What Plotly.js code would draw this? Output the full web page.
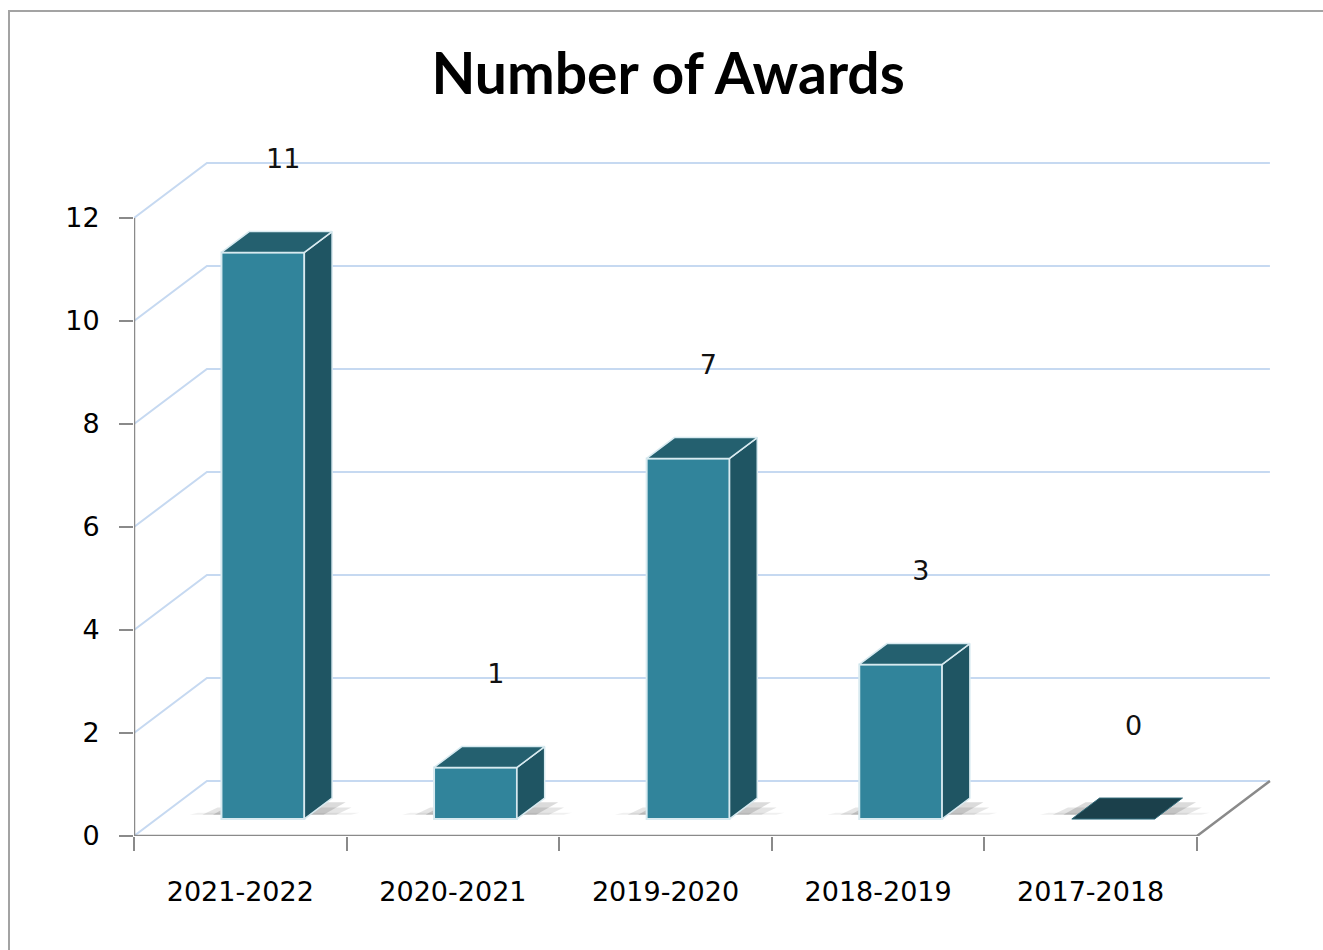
<!DOCTYPE html>
<html>
<head>
<meta charset="utf-8">
<script src="https://cdn.plot.ly/plotly-3.0.1.min.js"></script>
<style>
  html, body { margin: 0; padding: 0; background: #ffffff; overflow: hidden; }
  #chart { position: absolute; left: 0; top: 0; width: 1323px; height: 950px; }
  #frame { position: absolute; left: 8px; top: 10px; width: 1400px; height: 1000px;
           border: 2px solid #a3a3a3; pointer-events: none; }
</style>
</head>
<body>
<div id="chart"></div>
<div id="frame"></div>
<script>
// ---- data ----
const categories = ['2021-2022', '2020-2021', '2019-2020', '2018-2019', '2017-2018'];
const awards = [11, 1, 7, 3, 0];
const yTickVals = [0, 2, 4, 6, 8, 10, 12];
const chartTitle = 'Number of Awards';

// ---- 3D projection style constants (data units) ----
const N = categories.length;
const XMAX = 1146 / 212.6;     // x range so the floor depth fits
const YMAX = 696 / 51.5;       // y range so the back wall fits
const DEPTH_DX = 0.343;        // oblique depth offset in category units
const DEPTH_DY = 1.068;        // oblique depth offset in value units
const BAR_FRONT = 0.31;        // depth fraction of the bar front face
const BAR_DEPTH = 0.38;        // depth fraction of the bar body
const BAR_W = 0.39;            // bar width in category units
const LABEL_DY = 2.1;          // data label offset above value

const FRONT = '#31849b', TOP = '#24606f', SIDE = '#1f5563', FLAT = '#1b404b';
const EDGE = '#d8eaf0', AXIS = '#8a8a8a', GRID = '#c6d9f1';

const fx = BAR_FRONT * DEPTH_DX, fy = BAR_FRONT * DEPTH_DY;
const dx = BAR_DEPTH * DEPTH_DX, dy = BAR_DEPTH * DEPTH_DY;
const centers = categories.map((c, i) => i + 0.5);
const barX = centers.map(c => c + fx);

// top and side faces
const topX = [], topY = [], sideX = [], sideY = [], flatX = [], flatY = [];
awards.forEach((v, i) => {
  const xl = barX[i] - BAR_W / 2, xr = barX[i] + BAR_W / 2;
  const base = fy, top = fy + v;
  const tx = [xl, xr, xr + dx, xl + dx, xl, null];
  const ty = [top, top, top + dy, top + dy, top, null];
  if (v === 0) { flatX.push(...tx); flatY.push(...ty); }
  else {
    topX.push(...tx); topY.push(...ty);
    sideX.push(xr, xr, xr + dx, xr + dx, xr, null);
    sideY.push(base, top, top + dy, base + dy, base, null);
  }
});

// shapes: walls, floor, shadows (drawn below traces)
const shapes = [];
yTickVals.forEach(t => {
  shapes.push({type: 'path', xref: 'x', yref: 'y', layer: 'below',
    path: `M 0,${t} L ${DEPTH_DX},${t + DEPTH_DY} L ${N + DEPTH_DX},${t + DEPTH_DY}`,
    line: {color: GRID, width: 2}});
});
shapes.push({type: 'path', xref: 'x', yref: 'y', layer: 'below',
  path: `M 0,0 L ${N},0 L ${N + DEPTH_DX},${DEPTH_DY}`, line: {color: AXIS, width: 2.5}});
shapes.push({type: 'path', xref: 'x', yref: 'y', layer: 'below',
  path: `M 0,0 L 0,${yTickVals[yTickVals.length - 1]}`, line: {color: AXIS, width: 2.5}});
awards.forEach((v, i) => {
  const xl = barX[i] - BAR_W / 2, xr = barX[i] + BAR_W / 2;
  [[0.15, 0.22, 0.06, 0.3], [0.09, 0.15, 0.1, 0.55], [0.04, 0.09, 0.14, 0.8]].forEach(([l, r, op, h]) => {
    const a = xl - l, b = xr + r;
    shapes.push({type: 'path', xref: 'x', yref: 'y', layer: 'below',
      path: `M ${a},${fy + 0.08} L ${b},${fy + 0.08} L ${b + dx * h},${fy + dy * h} L ${a + dx * h},${fy + dy * h} Z`,
      fillcolor: `rgba(0,0,0,${op})`, line: {width: 0}});
  });
});

const traces = [
  {type: 'bar', x: barX, y: awards, base: fy, width: BAR_W,
   marker: {color: FRONT, line: {color: EDGE, width: 2}}, hoverinfo: 'skip'},
  {type: 'scatter', mode: 'lines', x: sideX, y: sideY, fill: 'toself', fillcolor: SIDE,
   line: {color: EDGE, width: 1.5}, hoverinfo: 'skip', cliponaxis: false},
  {type: 'scatter', mode: 'lines', x: topX, y: topY, fill: 'toself', fillcolor: TOP,
   line: {color: EDGE, width: 1.5}, hoverinfo: 'skip', cliponaxis: false},
  {type: 'scatter', mode: 'lines', x: flatX, y: flatY, fill: 'toself', fillcolor: FLAT,
   line: {color: '#2f6878', width: 1}, hoverinfo: 'skip', cliponaxis: false},
  {type: 'scatter', mode: 'text', x: centers.map(c => c + (BAR_FRONT + BAR_DEPTH / 2) * DEPTH_DX + 0.03),
   y: awards.map(v => v + LABEL_DY), text: awards.map(String), textposition: 'middle center',
   textfont: {family: 'DejaVu Sans', size: 27, color: '#111'}, hoverinfo: 'skip', cliponaxis: false}
];

const layout = {
  width: 1323, height: 950,
  margin: {l: 134, r: 43, t: 140, b: 114},
  paper_bgcolor: 'rgba(0,0,0,0)', plot_bgcolor: 'rgba(0,0,0,0)',
  showlegend: false,
  title: {text: chartTitle, font: {family: 'Lato', size: 57, color: '#000', weight: 700},
          xref: 'container', x: 0.505, xanchor: 'center', yref: 'container', y: 0.922, yanchor: 'middle'},
  xaxis: {range: [0, XMAX], tickmode: 'array', tickvals: centers, ticktext: categories,
          ticks: '', showgrid: false, zeroline: false, showline: false, fixedrange: true,
          tickfont: {family: 'DejaVu Sans', size: 27, color: '#000'}, ticklabelstandoff: 37,
          minor: {tickmode: 'array', tickvals: categories.map((c, i) => i).concat([N]),
                  ticks: 'outside', ticklen: 14, tickwidth: 2, tickcolor: AXIS, showgrid: false}},
  yaxis: {range: [0, YMAX], tickmode: 'array', tickvals: yTickVals, ticks: 'outside',
          ticklen: 14, tickwidth: 2, tickcolor: AXIS, showgrid: false, zeroline: false,
          showline: false, fixedrange: true, ticklabelstandoff: 14,
          tickfont: {family: 'DejaVu Sans', size: 27, color: '#000'}},
  shapes: shapes,
  bargap: 0
};

Plotly.newPlot('chart', traces, layout, {displayModeBar: false, staticPlot: true});
</script>
</body>
</html>
